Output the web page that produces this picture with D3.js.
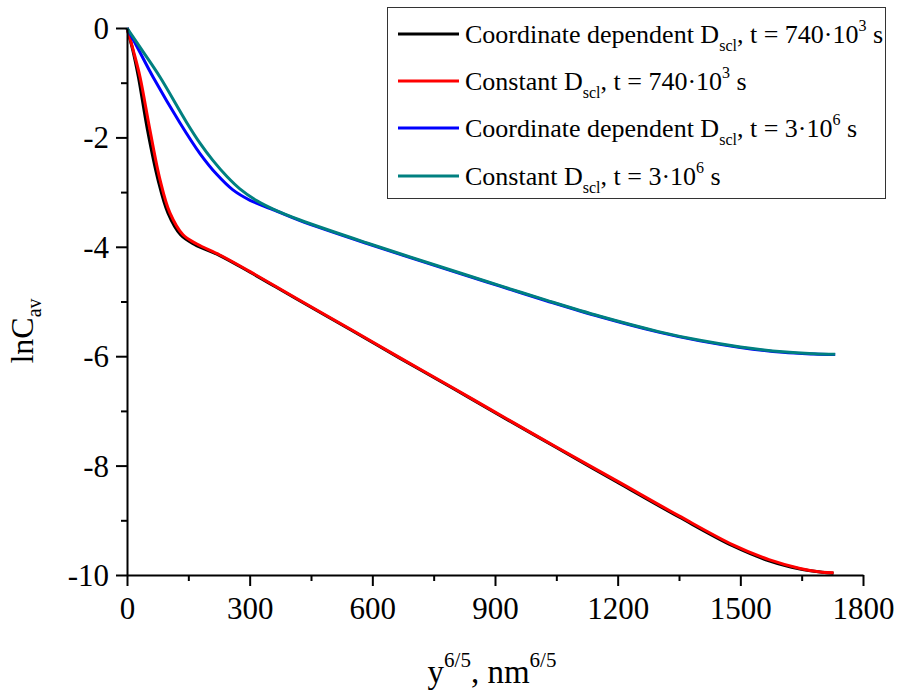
<!DOCTYPE html>
<html>
<head>
<meta charset="utf-8">
<script src="https://cdn.jsdelivr.net/npm/d3@7"></script>
<style>
  html, body { margin: 0; padding: 0; background: #fff; }
  svg { display: block; }
  svg text { font-family: "Liberation Serif", "Times New Roman", serif; }
</style>
</head>
<body>
<svg id="chart" width="897" height="693"></svg>
<script>
// lnC_av versus y^(6/5) for two diffusion times
const coordShortX = [0, 14, 28, 50, 76, 100, 131, 166, 227, 300, 416, 550, 668, 800, 895, 1050, 1198, 1350, 1482, 1570, 1646, 1700, 1728];
const coordShortY = [0, -0.4, -0.9, -1.86, -2.78, -3.38, -3.78, -3.96, -4.16, -4.46, -4.96, -5.53, -6.04, -6.6, -7.01, -7.67, -8.3, -8.94, -9.47, -9.74, -9.89, -9.95, -9.97];

const constShortX = [0, 15, 32, 56, 81, 105, 137, 171, 227, 300, 416, 550, 668, 800, 895, 1050, 1198, 1350, 1482, 1570, 1646, 1700, 1728];
const constShortY = [0, -0.4, -0.9, -1.86, -2.78, -3.38, -3.78, -3.95, -4.15, -4.45, -4.95, -5.52, -6.03, -6.59, -7.0, -7.66, -8.28, -8.92, -9.45, -9.72, -9.88, -9.95, -9.96];

const coordLongX = [0, 30, 64, 130, 178, 220, 259, 301, 367, 423, 587, 790, 912, 1027, 1157, 1300, 1401, 1500, 1604, 1680, 1732];
const coordLongY = [0, -0.42, -0.9, -1.74, -2.29, -2.68, -2.96, -3.15, -3.35, -3.52, -3.94, -4.43, -4.72, -4.99, -5.28, -5.56, -5.72, -5.84, -5.93, -5.96, -5.97];

const constLongX = [0, 40, 81, 147, 178, 210, 245, 276, 318, 360, 423, 587, 790, 912, 1027, 1157, 1300, 1401, 1500, 1604, 1680, 1732];
const constLongY = [0, -0.44, -0.9, -1.74, -2.1, -2.42, -2.72, -2.94, -3.16, -3.32, -3.51, -3.93, -4.42, -4.71, -4.98, -5.27, -5.55, -5.71, -5.83, -5.92, -5.955, -5.965];

const seriesColors = ["#000000", "#ff0000", "#0000ff", "#008080"];
const legendMain = ["Coordinate dependent D", "Constant D", "Coordinate dependent D", "Constant D"];
const legendTimeBase = ["740\u00b710", "740\u00b710", "3\u00b710", "3\u00b710"];
const legendTimeExp = ["3", "3", "6", "6"];

const xMajorTicks = [0, 300, 600, 900, 1200, 1500, 1800];
const xMinorTicks = [150, 450, 750, 1050, 1350, 1650];
const yMajorTicks = [0, -2, -4, -6, -8, -10];
const yMinorTicks = [-1, -3, -5, -7, -9];

const series = [
  { xs: coordShortX, ys: coordShortY },
  { xs: constShortX, ys: constShortY },
  { xs: coordLongX, ys: coordLongY },
  { xs: constLongX, ys: constLongY }
].map((s, i) => ({ color: seriesColors[i], pts: s.xs.map((x, j) => [x, s.ys[j]]) }));

const svg = d3.select("#chart");
const x = d3.scaleLinear().domain([0, 1800]).range([127, 863]);
const y = d3.scaleLinear().domain([-10, 0]).range([575, 28]);

// curves (drawn first so axes sit on top)
const line = d3.line().x(d => x(d[0])).y(d => y(d[1])).curve(d3.curveCatmullRom.alpha(0.5));
svg.append("g").selectAll("path").data(series).join("path")
  .attr("d", d => line(d.pts))
  .attr("fill", "none")
  .attr("stroke", d => d.color)
  .attr("stroke-width", 3)
  .attr("stroke-linejoin", "round");

// axes
function styleAxis(g) {
  g.attr("font-family", null).attr("font-size", null);
  g.selectAll(".domain").attr("stroke", "#000").attr("stroke-width", 2);
  g.selectAll(".tick line").attr("stroke", "#000").attr("stroke-width", 2);
}
const fontSize = 31;

const gx = svg.append("g").attr("transform", `translate(0,${y(-10)})`);
gx.call(d3.axisBottom(x).tickValues(xMinorTicks).tickSize(6).tickFormat("").tickSizeOuter(0)).call(styleAxis);
const gx2 = svg.append("g").attr("transform", `translate(0,${y(-10)})`);
gx2.call(d3.axisBottom(x).tickValues(xMajorTicks).tickSize(11).tickSizeOuter(0).tickFormat(d3.format("d"))).call(styleAxis);
gx2.select(".domain").remove();
gx2.selectAll(".tick text")
  .attr("y", 44).attr("dy", 0)
  .style("font-size", fontSize + "px").attr("fill", "#000");

const gy = svg.append("g").attr("transform", `translate(${x(0)},0)`);
gy.call(d3.axisLeft(y).tickValues(yMinorTicks).tickSize(6).tickFormat("").tickSizeOuter(0)).call(styleAxis);
const gy2 = svg.append("g").attr("transform", `translate(${x(0)},0)`);
gy2.call(d3.axisLeft(y).tickValues(yMajorTicks).tickSize(11).tickSizeOuter(0).tickFormat(d3.format("d"))).call(styleAxis);
gy2.select(".domain").remove();
gy2.selectAll(".tick text")
  .attr("x", -18).attr("dy", "0.34em")
  .style("font-size", fontSize + "px").attr("fill", "#000")
  .text(d => d === 0 ? "0" : "-" + Math.abs(d));

// axis titles
const yTitle = svg.append("text")
  .attr("transform", "translate(33,331) rotate(-90)")
  .attr("text-anchor", "middle")
  .style("font-size", "32px").attr("fill", "#000");
yTitle.append("tspan").text("lnC");
yTitle.append("tspan").style("font-size", "20px").attr("dy", 8).text("av");

const xTitle = svg.append("text")
  .attr("x", 492).attr("y", 683)
  .attr("text-anchor", "middle")
  .style("font-size", "33px").attr("fill", "#000");
xTitle.append("tspan").text("y");
xTitle.append("tspan").style("font-size", "21px").attr("dy", -16).text("6/5");
xTitle.append("tspan").attr("dy", 16).text(", nm");
xTitle.append("tspan").style("font-size", "21px").attr("dy", -16).text("6/5");

// legend
const legend = svg.append("g");
legend.append("rect")
  .attr("x", 387.5).attr("y", 7.5).attr("width", 498).attr("height", 191)
  .attr("fill", "#fff").attr("stroke", "#333").attr("stroke-width", 1);
const rowY = [34, 81, 128, 176];
seriesColors.forEach((c, i) => {
  legend.append("line")
    .attr("x1", 398).attr("x2", 459).attr("y1", rowY[i]).attr("y2", rowY[i])
    .attr("stroke", c).attr("stroke-width", 3);
  const t = legend.append("text")
    .attr("x", 465).attr("y", rowY[i] + 9)
    .style("font-size", "26px").attr("fill", "#000");
  t.append("tspan").text(legendMain[i]);
  t.append("tspan").style("font-size", "16px").attr("dy", 8).text("scl");
  t.append("tspan").attr("dy", -8).text(", t = " + legendTimeBase[i]);
  t.append("tspan").style("font-size", "16px").attr("dy", -12).text(legendTimeExp[i]);
  t.append("tspan").attr("dy", 12).text(" s");
});
</script>
</body>
</html>
